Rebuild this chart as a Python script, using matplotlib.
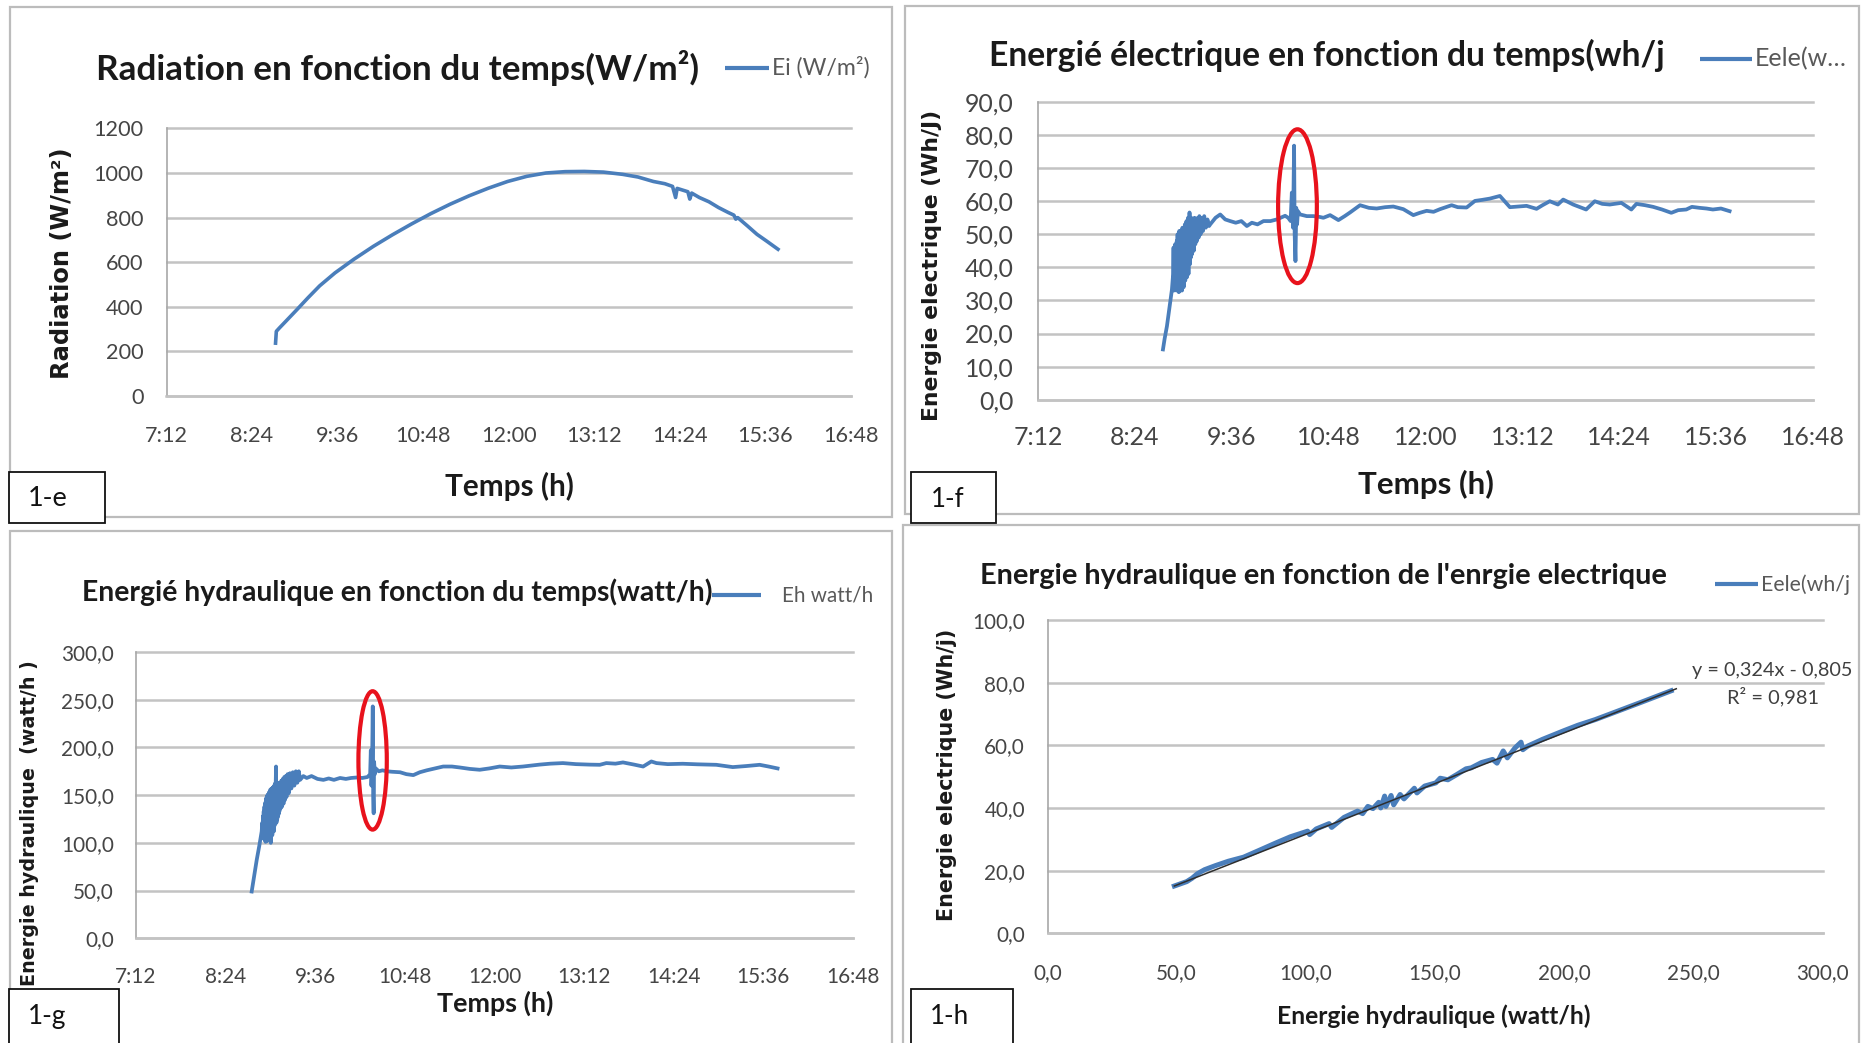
import matplotlib
matplotlib.use("Agg")
import matplotlib.pyplot as plt
from matplotlib.patches import Rectangle, Ellipse
from matplotlib.lines import Line2D

plt.rcParams["font.family"] = ["Lato", "DejaVu Sans"]

# ------------------------------------------------------------------ data
time_ticks = ["7:12", "8:24", "9:36", "10:48", "12:00", "13:12", "14:24", "15:36", "16:48"]
rad_ticks = [0, 200, 400, 600, 800, 1000, 1200]
ele_ticks = [0, 10, 20, 30, 40, 50, 60, 70, 80, 90]
hyd_ticks = [0, 50, 100, 150, 200, 250, 300]
scat_y_ticks = [0, 20, 40, 60, 80, 100]
scat_x_ticks = [0, 50, 100, 150, 200, 250, 300]

# Radiation Ei (W/m²) versus time of day (decimal hours)
rad_time = [8.730, 8.741, 8.784, 8.865, 9.026, 9.187, 9.349, 9.564, 9.833, 10.102,
            10.371, 10.641, 10.910, 11.179, 11.448, 11.717, 11.986, 12.255, 12.524,
            12.793, 13.062, 13.331, 13.600, 13.816, 14.031, 14.192, 14.300, 14.343,
            14.365, 14.515, 14.542, 14.569, 14.677, 14.811, 14.946, 15.081, 15.161,
            15.188, 15.215, 15.350, 15.485, 15.619, 15.780]
rad_val = [237, 290, 305, 332, 386, 441, 494, 552, 614, 671,
           723, 772, 818, 860, 898, 932, 962, 985, 1000,
           1006, 1007, 1004, 994, 982, 962, 952, 940, 890,
           931, 916, 883, 910, 890, 871, 845, 823, 811,
           793, 800, 763, 725, 695, 658]

# Electrical energy Eele (Wh/j) versus time
ele_time = [8.749, 8.770, 8.798, 8.830, 8.860, 8.875,
            8.880, 8.885, 8.890, 8.895, 8.900, 8.905, 8.910, 8.915, 8.920, 8.925,
            8.930, 8.935, 8.940, 8.945, 8.950, 8.955, 8.960, 8.965, 8.970, 8.975,
            8.980, 8.985, 8.990, 8.995, 9.000, 9.005, 9.010, 9.015, 9.020, 9.025,
            9.030, 9.035, 9.040, 9.045, 9.050, 9.055, 9.060, 9.065, 9.070, 9.075,
            9.078, 9.085, 9.090, 9.095, 9.100, 9.110, 9.120, 9.130, 9.140, 9.150,
            9.160, 9.170, 9.180, 9.190, 9.200, 9.215, 9.230, 9.245, 9.260, 9.280,
            9.300, 9.320, 9.334,
            9.400, 9.458, 9.520, 9.582, 9.650, 9.720, 9.788, 9.850, 9.920, 9.994,
            10.080, 10.159, 10.262, 10.300, 10.330, 10.345, 10.360, 10.373, 10.380,
            10.390, 10.400, 10.410, 10.420, 10.448, 10.530, 10.612, 10.680, 10.736,
            10.819, 10.922, 11.000, 11.066, 11.190, 11.300, 11.396, 11.500, 11.602,
            11.726, 11.850, 11.930, 12.015, 12.100, 12.180, 12.324, 12.400, 12.510,
            12.613, 12.700, 12.798, 12.922, 12.980, 13.046, 13.150, 13.252, 13.376,
            13.450, 13.540, 13.640, 13.706, 13.830, 13.990, 14.097, 14.190, 14.283,
            14.427, 14.550, 14.613, 14.720, 14.820, 14.930, 15.045, 15.130, 15.230,
            15.300, 15.396, 15.480, 15.560, 15.660, 15.767]
ele_val = [15.2, 18.5, 22.2, 28.0, 33.3, 38.0,
           46.0, 33.0, 44.0, 34.0, 47.0, 35.0, 45.0, 33.0, 48.0, 36.0,
           50.0, 34.0, 47.0, 32.5, 51.0, 35.0, 49.0, 33.0, 51.0, 36.0,
           50.0, 33.0, 52.0, 37.0, 51.0, 34.0, 50.0, 38.0, 53.0, 36.0,
           52.0, 39.0, 54.0, 37.0, 53.0, 40.0, 55.0, 38.0, 54.0, 42.0,
           56.6, 41.0, 54.0, 43.0, 55.0, 44.0, 54.0, 45.0, 55.0, 47.0,
           54.5, 48.0, 55.0, 49.0, 55.5, 50.0, 55.0, 51.0, 55.5, 52.0,
           54.5, 52.5, 53.0,
           55.0, 56.0, 54.5, 54.0, 53.5, 54.0, 52.5, 53.5, 53.0, 54.0,
           54.0, 54.5, 55.6, 55.0, 54.0, 62.6, 52.0, 76.8, 50.0,
           41.9, 58.0, 53.0, 57.0, 56.0, 55.5, 55.5, 55.3, 55.0,
           55.8, 54.3, 55.5, 56.6, 58.8, 58.0, 57.8, 58.2, 58.4,
           57.6, 55.8, 56.5, 57.1, 56.8, 57.6, 58.8, 58.2, 58.1,
           60.1, 60.4, 60.8, 61.6, 60.0, 58.2, 58.4, 58.6, 57.7,
           58.8, 60.0, 59.0, 60.5, 59.0, 57.5, 60.0, 59.2, 59.0,
           59.5, 57.5, 59.2, 58.8, 58.3, 57.5, 56.5, 57.3, 57.5,
           58.3, 58.0, 57.8, 57.5, 57.8, 57.0]

# Hydraulic energy Eh (watt/h) versus time
hyd_time = [8.749, 8.781, 8.816, 8.851, 8.883,
            8.890, 8.895, 8.900, 8.905, 8.910, 8.915, 8.920, 8.925, 8.930, 8.935,
            8.940, 8.945, 8.950, 8.955, 8.960, 8.965, 8.970, 8.975, 8.980, 8.985,
            8.990, 8.995, 9.000, 9.005, 9.010, 9.015, 9.020, 9.025, 9.030, 9.035,
            9.040, 9.045, 9.050, 9.055, 9.060, 9.065, 9.070, 9.075, 9.080, 9.085,
            9.090, 9.095, 9.100, 9.105, 9.110, 9.115, 9.120, 9.125, 9.135, 9.145,
            9.155, 9.165, 9.175, 9.185, 9.195, 9.205, 9.215, 9.230, 9.245, 9.262,
            9.280, 9.300, 9.320, 9.340, 9.360, 9.380, 9.397,
            9.440, 9.486, 9.550, 9.630, 9.709, 9.780, 9.850, 9.932, 10.010, 10.080,
            10.156, 10.230, 10.300, 10.335, 10.344, 10.352, 10.360, 10.370, 10.376,
            10.382, 10.388, 10.398, 10.410, 10.450, 10.500, 10.558, 10.630, 10.735,
            10.820, 10.913, 11.000, 11.092, 11.200, 11.313, 11.430, 11.535, 11.670,
            11.802, 11.930, 12.070, 12.225, 12.381, 12.490, 12.604, 12.750, 12.916,
            13.090, 13.273, 13.410, 13.497, 13.620, 13.720, 13.870, 13.990, 14.100,
            14.168, 14.320, 14.520, 14.720, 14.970, 15.190, 15.370, 15.550, 15.670,
            15.790]
hyd_val = [49, 65, 82, 97, 112,
           121, 107, 128, 106, 133, 104, 138, 103, 142, 101,
           146, 104, 148, 102, 150, 108, 151, 104, 153, 110,
           152, 103, 156, 100, 155, 112, 157, 108, 158, 115,
           156, 112, 160, 118, 162, 122, 160, 180, 121, 160,
           124, 162, 127, 161, 130, 163, 133, 163, 136, 165,
           138, 167, 141, 169, 145, 170, 148, 172, 152, 173,
           157, 174, 160, 175, 163, 175, 166,
           170, 168, 170, 167, 166, 167.5, 166, 168, 167, 168,
           168.5, 168, 169, 172, 197, 160, 175, 243, 150,
           131, 185, 172, 178, 175, 176, 175, 174.5, 174,
           172, 171, 174, 176, 178, 180, 180, 179, 177.5,
           176.6, 178, 180, 179, 180, 181, 182, 183, 183.6,
           182.5, 182, 181.8, 183.6, 183, 184.3, 182, 180, 185.3,
           183.6, 182.5, 182.9, 182.3, 181.8, 179.4, 180.5, 181.8, 180,
           178]

# Eele (Wh/j) against Eh (watt/h)
sc_hyd = [49.1, 51.5, 53.9, 56.0, 58.0, 60.8, 65.0, 70.0, 75.9, 82.0, 88.3, 94.0,
          100.7, 101.5, 104.0, 109.0, 110.0, 114.8, 120.0, 122.0, 124.0, 126.0,
          128.2, 129.0, 130.5, 131.0, 133.0, 134.0, 136.5, 138.0, 142.0, 143.0,
          146.0, 150.3, 152.0, 155.0, 158.5, 162.0, 164.0, 168.0, 172.3, 174.0,
          176.4, 178.0, 181.0, 183.3, 184.0, 186.0, 191.6, 200.0, 205.3, 212.0,
          219.1, 230.0, 241.4]
sc_ele = [15.1, 15.8, 16.5, 17.6, 19.0, 20.3, 21.6, 23.0, 24.3, 26.5, 28.8, 30.8,
          32.6, 31.5, 33.3, 35.0, 33.8, 37.0, 39.0, 38.2, 40.5, 39.8,
          41.8, 40.0, 43.8, 40.5, 44.0, 41.0, 44.3, 42.9, 46.3, 44.8,
          47.0, 48.0, 49.5, 49.0, 50.7, 52.5, 52.8, 54.5, 55.5, 54.3,
          58.2, 56.0, 59.2, 61.0, 58.6, 59.8, 61.9, 64.7, 66.4, 68.2,
          70.4, 73.8, 77.4]
trend_slope = 0.324
trend_icpt = -0.805
trend_r2 = 0.981

# ------------------------------------------------------------------ helpers
W, H = 1861, 1043
BLUE = "#4a7ebb"
GRID = "#c3c3c3"
TICK_COLOR = "#454545"
RED = "#e8121c"

fig = plt.figure(figsize=(W / 100, H / 100), dpi=100)
fig.patch.set_facecolor("white")
renderer = fig.canvas.get_renderer()


def hours(s):
    h, m = s.split(":")
    return int(h) + int(m) / 60.0


def comma(v, nd=1):
    return f"{v:.{nd}f}".replace(".", ",")


def fx(x):
    return x / W


def fy(y):
    return 1 - y / H


def make_axes(x0, x1, y_top, y_bot):
    return fig.add_axes([fx(x0), fy(y_bot), (x1 - x0) / W, (y_bot - y_top) / H])


def size_for(sample, width_px, **kw):
    t = fig.text(0, 0, sample, fontsize=20, **kw)
    w = t.get_window_extent(renderer).width
    t.remove()
    return 20 * width_px / w


def fit_h(s, x0, x1, yc, **kw):
    t = fig.text(fx(x0), fy(yc), s, ha="left", va="center", fontsize=20, **kw)
    w = t.get_window_extent(renderer).width
    t.set_fontsize(20 * (x1 - x0) / w)
    return t


def fit_v(s, xc, y0, y1, **kw):
    t = fig.text(fx(xc), fy((y0 + y1) / 2), s, rotation=90, ha="center",
                 va="center", fontsize=20, **kw)
    h = t.get_window_extent(renderer).height
    t.set_fontsize(20 * (y1 - y0) / h)
    return t


def frame_box(x0, y0, x1, y1, **kw):
    r = Rectangle((fx(x0), fy(y1)), (x1 - x0) / W, (y1 - y0) / H,
                  transform=fig.transFigure, **kw)
    fig.add_artist(r)
    return r


def legend_line(x0, x1, y):
    fig.add_artist(Line2D([fx(x0), fx(x1)], [fy(y), fy(y)], transform=fig.transFigure,
                          color=BLUE, lw=3.0, solid_capstyle="butt"))


def style_axes(ax, left_px, xlim, ylim, xticks, xlabels, yticks, ylabels,
               tick_width_px, ylab_right_px):
    ax.set_xlim(xlim)
    ax.set_ylim(ylim)
    ax.set_xticks(xticks)
    ax.set_xticklabels(xlabels)
    ax.set_yticks(yticks)
    ax.set_yticklabels(ylabels)
    for s in ("top", "right"):
        ax.spines[s].set_visible(False)
    ax.spines["left"].set_color("#a8a8a8")
    ax.spines["left"].set_linewidth(1.2)
    ax.spines["bottom"].set_color(GRID)
    ax.spines["bottom"].set_linewidth(1.8)
    ax.grid(axis="y", color=GRID, lw=1.8)
    ax.set_axisbelow(True)
    for g in ax.get_ygridlines():
        g.set_clip_on(False)
    size = size_for(ylabels[-1], tick_width_px)
    ax.tick_params(axis="both", length=0, labelsize=size, labelcolor=TICK_COLOR)
    ax.tick_params(axis="y", pad=(left_px - ylab_right_px) * 0.72)
    ax.tick_params(axis="x", pad=20)
    ax.patch.set_alpha(0)


time_pos = [hours(s) for s in time_ticks]
tlim = (time_pos[0], time_pos[-1])

# ------------------------------------------------------------------ panel borders
border = dict(fill=False, edgecolor="#bcbcbc", lw=1.6, zorder=1)
frame_box(10, 7, 892, 517, **border)
frame_box(905, 6, 1859, 514, **border)
frame_box(10, 531, 892, 1050, **border)
frame_box(903, 525, 1859, 1050, **border)

# ------------------------------------------------------------------ 1-e radiation
ax_e = make_axes(166.5, 850.7, 128.4, 396)
style_axes(ax_e, 166.5, tlim, (0, 1200), time_pos, time_ticks,
           rad_ticks, [str(v) for v in rad_ticks], 50, 143.5)
ax_e.plot(rad_time, rad_val, color=BLUE, lw=2.6, solid_joinstyle="round")
fit_h("Radiation en fonction du temps(W/m²)", 96.4, 699.2, 67.6,
      fontweight="bold", color="#1a1a1a")
legend_line(724.5, 769.2, 67.6)
fit_h("Ei (W/m²)", 772, 869.7, 67.6, color="#595959")
fit_v("Radiation (W/m²)", 61.7, 147, 378.4, family="DejaVu Sans",
      fontweight="bold", color="#1a1a1a")
fit_h("Temps (h)", 444.9, 574, 486.5, fontweight="bold", color="#1a1a1a")

# ------------------------------------------------------------------ 1-f electrical energy
ax_f = make_axes(1037.9, 1813.0, 102, 399.7)
style_axes(ax_f, 1037.9, tlim, (0, 90), time_pos, time_ticks,
           ele_ticks, [comma(v) for v in ele_ticks], 49, 1013.4)
ax_f.plot(ele_time, ele_val, color=BLUE, lw=2.7, solid_joinstyle="round")
ax_f.add_patch(Ellipse((10.415, 58.5), 0.48, 46.5, fill=False, edgecolor=RED,
                       lw=3.0, clip_on=False, zorder=5))
fit_h("Energié électrique en fonction du temps(wh/j", 988.8, 1666, 55.7,
      fontweight="bold", color="#1a1a1a")
legend_line(1699.6, 1751.7, 59)
fit_h("Eele(w…", 1754.8, 1846.7, 59, color="#595959")
fit_v("Energie electrique (Wh/J)", 932, 109.8, 420.6, family="DejaVu Sans",
      fontweight="bold", color="#1a1a1a")
fit_h("Temps (h)", 1358.3, 1494.4, 484.8, fontweight="bold", color="#1a1a1a")

# ------------------------------------------------------------------ 1-g hydraulic energy
ax_g = make_axes(136, 853, 652, 938.3)
style_axes(ax_g, 136, tlim, (0, 300), time_pos, time_ticks,
           hyd_ticks, [comma(v) for v in hyd_ticks], 52.8, 114)
ax_g.plot(hyd_time, hyd_val, color=BLUE, lw=2.7, solid_joinstyle="round")
ax_g.add_patch(Ellipse((10.368, 186.4), 0.38, 145, fill=False, edgecolor=RED,
                       lw=3.0, clip_on=False, zorder=5))
fit_h("Energié hydraulique en fonction du temps(watt/h)", 82, 711.8, 592.7,
      fontweight="bold", color="#1a1a1a")
legend_line(711.8, 760.6, 595)
fit_h("Eh watt/h", 781.9, 872.6, 595, color="#595959")
fit_v("Energie hydraulique  (watt/h )", 30, 659.7, 986, family="DejaVu Sans",
      fontweight="bold", color="#1a1a1a")
fit_h("Temps (h)", 437.4, 554, 1003.5, fontweight="bold", color="#1a1a1a")

# ------------------------------------------------------------------ 1-h Eele vs Eh
ax_h = make_axes(1047.5, 1822.5, 620, 933.3)
style_axes(ax_h, 1047.5, (0, 300), (0, 100), scat_x_ticks,
           [comma(v) for v in scat_x_ticks], scat_y_ticks,
           [comma(v) for v in scat_y_ticks], 52.7, 1025)
ax_h.plot(sc_hyd, sc_ele, color=BLUE, lw=3.6, solid_joinstyle="round")
tx = [min(sc_hyd), max(sc_hyd) + 2]
ax_h.plot(tx, [trend_slope * v + trend_icpt for v in tx], color="#2e2e2e", lw=1.1)
fit_h("Energie hydraulique en fonction de l'enrgie electrique", 979.7, 1666, 576.2,
      fontweight="bold", color="#1a1a1a")
legend_line(1715, 1758, 584.4)
fit_h("Eele(wh/j", 1761, 1849.8, 584.4, color="#595959")
fit_v("Energie electrique (Wh/j)", 947, 629, 921, family="DejaVu Sans",
      fontweight="bold", color="#1a1a1a")
fit_h("Energie hydraulique (watt/h)", 1276.8, 1591.2, 1016.7,
      fontweight="bold", color="#1a1a1a")
eq = f"y = {comma(trend_slope, 3)}x - {comma(abs(trend_icpt), 3)}"
fit_h(eq, 1692.3, 1852.8, 670.2, color="#404040")
fit_h(f"R² = {comma(trend_r2, 3)}", 1727, 1819, 696.6, color="#404040")

# ------------------------------------------------------------------ tag boxes
tag = dict(facecolor="white", edgecolor="#111111", lw=1.3, zorder=10)
frame_box(8.6, 472, 105, 523, **tag)
frame_box(911, 472, 996, 523, **tag)
frame_box(8.6, 989, 119.4, 1050, **tag)
frame_box(911, 989, 1013.4, 1050, **tag)
for s, x0, x1, yc in [("1-e", 27.6, 67.7, 499), ("1-f", 930.6, 964.3, 499.3),
                      ("1-g", 27.6, 66, 1016.7), ("1-h", 929.4, 968.6, 1016.7)]:
    t = fit_h(s, x0, x1, yc, color="#111111")
    t.set_zorder(11)

# ------------------------------------------------------------------ x tick label offsets
x_label_centres = [(ax_e, 435.8), (ax_f, 437.5), (ax_g, 976.7), (ax_h, 972.7)]
fig.canvas.draw()
for ax, yc in x_label_centres:
    bb = ax.get_xticklabels()[0].get_window_extent(renderer)
    cur = H - (bb.y0 + bb.y1) / 2
    ax.tick_params(axis="x", pad=20 + (yc - cur) * 0.72)

fig.savefig("out.png", dpi=100, facecolor="white")
